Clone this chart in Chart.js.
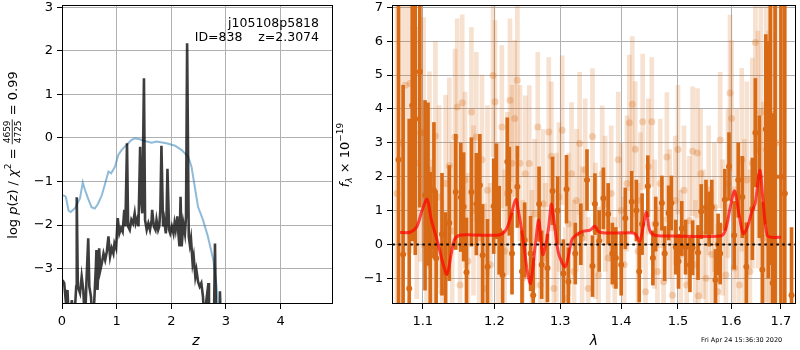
<!DOCTYPE html>
<html>
<head>
<meta charset="utf-8">
<script src="https://cdn.jsdelivr.net/npm/chart.js@4"></script>
<style>
  body { margin: 0; background: #fff; }
  #wrap { position: relative; width: 800px; height: 350px; overflow: hidden; }
  canvas { position: absolute; top: 0; }
  #pz { left: 0; }
  #spec { left: 336px; }
</style>
</head>
<body>
<div id="wrap">
  <canvas id="pz" width="336" height="350"></canvas>
  <canvas id="spec" width="464" height="350"></canvas>
</div>
<script>
// ---- left panel: log p(z) and chi2 curves ----
const zTicks = [0, 1, 2, 3, 4];
const logpTicks = [-3, -2, -1, 0, 1, 2, 3];

const chi2Z =   [0.02, 0.07, 0.12, 0.16, 0.24, 0.33, 0.38, 0.42, 0.48, 0.54, 0.60, 0.66, 0.73, 0.80, 0.85, 0.90, 0.97, 1.03, 1.09, 1.18, 1.27, 1.33, 1.42, 1.55, 1.64, 1.73, 1.91, 2.07, 2.19, 2.31, 2.37, 2.43, 2.49, 2.58, 2.67, 2.77, 2.83, 2.88];
const chi2Val = [-1.31, -1.35, -1.67, -1.70, -1.61, -1.38, -1.02, -1.19, -1.40, -1.59, -1.62, -1.51, -1.31, -1.00, -0.77, -0.81, -0.66, -0.39, -0.28, -0.16, -0.05, -0.01, -0.03, -0.08, -0.11, -0.08, -0.12, -0.18, -0.28, -0.43, -0.66, -1.12, -1.58, -1.88, -2.26, -2.80, -3.41, -4.40];

const pzZ = [0.01, 0.04, 0.07, 0.10, 0.13, 0.18, 0.22, 0.26, 0.27, 0.29, 0.33, 0.36, 0.39, 0.42, 0.45, 0.48, 0.50, 0.53, 0.56, 0.59,
  0.62, 0.63, 0.65, 0.68, 0.70, 0.73, 0.76, 0.79, 0.82, 0.85, 0.88, 0.91, 0.94, 0.96, 0.99, 1.02, 1.05, 1.08, 1.11, 1.14,
  1.16, 1.19, 1.21, 1.24, 1.27, 1.30, 1.33, 1.35, 1.38, 1.40, 1.43, 1.45, 1.47, 1.50, 1.52, 1.55, 1.58, 1.61, 1.64, 1.65,
  1.68, 1.71, 1.73, 1.76, 1.78, 1.80, 1.82, 1.85, 1.87, 1.90, 1.91, 1.93, 1.96, 1.98, 2.01, 2.04, 2.06, 2.08, 2.11, 2.13,
  2.15, 2.17, 2.19, 2.22, 2.25, 2.27, 2.29, 2.32, 2.34, 2.36, 2.39, 2.41, 2.44, 2.46, 2.49, 2.52, 2.55, 2.58, 2.61, 2.64,
  2.68, 2.69, 2.78, 2.80, 2.82, 2.88, 2.89, 2.91];
const pzVal = [-3.26, -3.33, -3.75, -3.49, -4.3, -3.72, -4.3, -3.41, -1.36, -3.41, -3.56, -3.18, -3.49, -4.3, -3.22, -2.30, -3.41, -3.64, -4.3, -3.75,
  -2.95, -2.57, -3.49, -2.53, -3.04, -2.87, -2.65, -2.80, -2.61, -2.26, -2.72, -2.53, -2.65, -2.42, -2.53, -1.84, -2.19, -2.07, -2.15, -1.65,
  -2.03, -0.12, -2.03, -2.11, -1.88, -1.96, -1.73, -1.96, -1.84, -2.03, -0.20, -1.42, -1.73, 1.37, -1.88, -2.11, -1.96, -2.11, -1.88, -1.65,
  -2.03, -2.11, -1.88, -2.11, -2.03, -1.65, -0.18, -2.03, -1.88, -2.19, -2.03, -0.71, -2.11, -2.19, -2.03, -2.19, -1.96, -2.11, -1.80, -2.19,
  -2.49, -1.35, -2.49, -1.96, -2.19, -1.80, 2.17, -2.26, -2.45, -2.30, -2.87, -2.72, -3.18, -3.03, -3.30, -3.41, -3.33, -3.64, -4.3, -3.75,
  -3.33, -4.3, -4.3, -2.42, -4.3, -4.3, -3.52, -4.3];

// ---- right panel: spectrum ----
const lamTicks = [1.1, 1.2, 1.3, 1.4, 1.5, 1.6, 1.7];
const fluxTicks = [-1, 0, 1, 2, 3, 4, 5, 6, 7];

const darkWave = [1.068, 1.074, 1.082, 1.086, 1.090, 1.096, 1.103, 1.107, 1.110, 1.115, 1.118, 1.126, 1.131, 1.136, 1.145, 1.152, 1.156, 1.160, 1.167, 1.174,
  1.179, 1.183, 1.190, 1.199, 1.203, 1.207, 1.212, 1.219, 1.222, 1.226, 1.234, 1.241, 1.245, 1.254, 1.258, 1.267, 1.271, 1.280, 1.288, 1.296,
  1.305, 1.310, 1.313, 1.324, 1.333, 1.343, 1.352, 1.356, 1.363, 1.370, 1.378, 1.385, 1.391, 1.400, 1.407, 1.418, 1.426, 1.431, 1.436, 1.446,
  1.455, 1.460, 1.471, 1.476, 1.483, 1.488, 1.496, 1.501, 1.507, 1.514, 1.522, 1.527, 1.537, 1.543, 1.552, 1.558, 1.563, 1.570, 1.575, 1.579,
  1.588, 1.596, 1.606, 1.614, 1.622, 1.630, 1.642, 1.648, 1.656, 1.662, 1.669, 1.674, 1.678, 1.683, 1.688, 1.700, 1.708, 1.722];
const darkFlux = [2.5, -0.3, -1.3, 4.1, 3.7, 5.1, 1.45, 1.78, -0.07, 1.60, -0.41, 0.3, -0.86, 0.63, 1.55, 1.39, 1.11, -0.82, 1.55, 1.19,
  1.75, -0.32, -0.66, 1.13, 1.57, 0.42, -0.9, 2.44, 1.57, -0.27, 1.7, -0.8, 0.13, -0.27, -1.5, 1.19, -0.6, -0.7, 1.58, 1.0,
  -0.86, 1.63, -1.10, -0.27, 0.3, 1.90, -0.64, 1.19, 0.1, 1.36, 0.9, -0.27, -0.4, -0.6, 0.77, 1.26, 1.0, -0.8, 0.6, 1.72,
  -0.4, 0.6, 1.22, -0.27, 0.93, 1.22, -0.08, -0.5, 0.47, -0.08, -0.6, -0.1, -0.24, 0.97, 1.1, 0.75, 1.1, -1.05, 0.0, -0.27,
  1.32, 2.3, 0.27, 1.9, 1.4, -0.66, 1.05, 3.3, 2.0, -0.75, 3.4, 2.5, 3.4, -1.14, 2.0, 2.0, 1.5, -1.5];
const darkErr = [6, 5, 5, 4, 4, 4, 2.8, 2.4, 2.2, 2.0, 2.0, 1.8, 1.8, 1.7, 1.7, 1.6, 1.6, 1.6, 1.6, 1.5,
  1.5, 1.5, 1.4, 1.4, 1.4, 1.3, 1.3, 1.3, 1.3, 1.2, 1.2, 1.2, 1.1, 1.1, 1.1, 1.1, 1.0, 1.0, 1.0, 1.0,
  1.0, 1.0, 1.0, 0.9, 0.9, 0.9, 0.9, 0.9, 0.9, 0.9, 0.9, 0.9, 0.9, 0.9, 0.9, 0.9, 0.9, 0.9, 0.9, 0.9,
  0.8, 0.8, 0.8, 0.8, 0.8, 0.8, 0.8, 0.8, 0.8, 0.8, 0.8, 0.8, 0.8, 0.8, 0.8, 0.8, 0.8, 0.9, 0.9, 0.9,
  0.9, 1.0, 1.0, 1.1, 1.2, 1.3, 1.5, 1.6, 1.8, 2.0, 2.8, 3.5, 4, 5, 6, 9, 10, 2.0];

const lightWave = [1.066, 1.071, 1.077, 1.083, 1.088, 1.092, 1.097, 1.101, 1.105, 1.109, 1.113, 1.117, 1.122, 1.126, 1.131, 1.136, 1.140, 1.144, 1.147, 1.151,
  1.154, 1.158, 1.162, 1.167, 1.170, 1.174, 1.178, 1.182, 1.186, 1.190, 1.194, 1.198, 1.201, 1.205, 1.211, 1.215, 1.219, 1.223, 1.226, 1.230,
  1.234, 1.238, 1.242, 1.246, 1.252, 1.256, 1.260, 1.265, 1.269, 1.273, 1.277, 1.282, 1.286, 1.290, 1.294, 1.298, 1.303, 1.308, 1.313, 1.318,
  1.322, 1.326, 1.331, 1.335, 1.340, 1.345, 1.352, 1.357, 1.362, 1.368, 1.373, 1.378, 1.383, 1.389, 1.395, 1.400, 1.405, 1.410, 1.414, 1.419,
  1.424, 1.429, 1.433, 1.437, 1.442, 1.447, 1.453, 1.458, 1.463, 1.468, 1.474, 1.480, 1.485, 1.490, 1.495, 1.500, 1.505, 1.511, 1.516, 1.521,
  1.527, 1.532, 1.536, 1.538, 1.542, 1.547, 1.552, 1.557, 1.563, 1.568, 1.574, 1.579, 1.584, 1.590, 1.594, 1.598, 1.601, 1.606, 1.611, 1.616,
  1.621, 1.626, 1.631, 1.637, 1.642, 1.648, 1.653, 1.659, 1.664, 1.670, 1.675, 1.680, 1.685, 1.690];
const lightFlux = [1.5, 3.0, 4.7, 4.75, 6.4, 2.4, 3.3, 3.3, 0.6, 2.2, -0.3, 3.2, 1.40, -1.4, 1.80, 2.32, 0.4, 3.17, 4.06, -1.2,
  4.18, 1.9, -0.5, 3.91, 1.0, 3.17, 0.2, 2.5, -1.3, 1.6, -0.6, 4.99, 4.21, 0.6, 3.47, -0.2, 1.5, 4.26, 2.4, 3.72,
  4.85, 2.4, -1.0, 2.09, 2.39, -0.6, 0.9, 3.47, -1.2, 1.2, -0.4, 3.32, 2.6, -1.3, 0.5, 1.4, 3.37, -1.6, 0.6, 2.09,
  -0.8, 1.3, 2.98, 0.2, 2.2, -1.3, 3.19, 0.4, -0.9, 2.09, 1.2, -0.4, 1.5, -1.2, 2.5, 1.0, -0.6, 1.8, 3.59, 4.14,
  2.81, -0.2, 1.3, 3.62, -1.4, 2.3, 3.62, 0.6, -0.8, 1.8, -1.1, 2.58, 0.9, -1.5, 1.3, 2.8, -0.3, 1.6, -1.2, 0.7,
  2.75, -0.6, 2.70, -1.52, 2.09, 0.3, -1.0, 1.6, -0.3, 1.1, -1.4, 3.08, 0.5, -0.9, 1.8, 4.47, 3.72, -0.7, 1.5, -1.2,
  2.5, 0.3, 1.9, -0.8, 2.4, 5.96, 2.8, 3.9, 0.2, 2.8, 1.3, 3.84, 2.2, 3.0];
const lightErr = [6, 6, 5, 5, 4, 4, 3.8, 3.4, 3.0, 2.9, 2.8, 2.8, 2.7, 2.7, 2.6, 2.6, 2.6, 2.6, 2.6, 2.6,
  2.6, 2.6, 2.6, 2.5, 2.5, 2.5, 2.5, 2.5, 2.5, 2.5, 2.4, 2.4, 2.4, 2.4, 2.4, 2.4, 2.4, 2.4, 2.3, 2.3,
  2.3, 2.3, 2.3, 2.3, 2.3, 2.2, 2.2, 2.2, 2.2, 2.2, 2.2, 2.2, 2.2, 2.2, 2.2, 2.2, 2.2, 2.1, 2.1, 2.1,
  2.1, 2.1, 2.1, 2.1, 2.1, 2.1, 2.0, 2.0, 2.0, 2.0, 2.0, 2.0, 2.0, 2.0, 2.0, 2.0, 2.0, 2.0, 2.0, 2.0,
  2.0, 2.0, 2.0, 2.0, 2.0, 2.0, 1.9, 1.9, 1.9, 1.9, 1.9, 1.9, 1.9, 1.9, 1.9, 1.9, 1.9, 1.9, 1.9, 1.9,
  1.9, 1.9, 1.9, 1.9, 1.9, 1.9, 1.9, 1.9, 1.9, 1.9, 2.0, 2.0, 2.0, 2.1, 2.2, 2.3, 2.3, 2.4, 2.5, 2.6,
  2.7, 2.8, 2.9, 3.0, 3.1, 3.3, 3.5, 3.8, 4, 4.5, 5, 6, 6, 7];

const modelWave = [1.070, 1.083, 1.092, 1.099, 1.1057, 1.1116, 1.1205, 1.1273, 1.1328, 1.1388, 1.1434, 1.1503, 1.169, 1.207, 1.2168, 1.2241, 1.2315, 1.2364, 1.2439, 1.2488,
  1.2539, 1.2615, 1.2666, 1.2727, 1.2778, 1.2819, 1.2861, 1.2913, 1.2975, 1.3080, 1.3185, 1.3249, 1.3372, 1.3480, 1.3562, 1.3616, 1.3727, 1.4063, 1.4233, 1.4319,
  1.4376, 1.4434, 1.4493, 1.4581, 1.4876, 1.5794, 1.5890, 1.5986, 1.6069, 1.6154, 1.6238, 1.6318, 1.6415, 1.6475, 1.6569, 1.6634, 1.6715, 1.6816, 1.700];
const modelFlux = [0.35, 0.36, 0.52, 1.00, 1.33, 0.72, 0.03, -0.56, -0.88, -0.27, 0.15, 0.27, 0.28, 0.28, 0.42, 0.81, 1.33, 0.90, -0.02, -0.76,
  -1.15, 0.03, 0.72, -0.30, 0.03, 0.52, 1.19, 0.52, -0.27, -0.66, 0.13, 0.27, 0.39, 0.42, 0.54, 0.38, 0.34, 0.34, 0.32, 0.10,
  0.50, 0.95, 0.42, 0.27, 0.25, 0.25, 0.42, 1.11, 1.58, 0.90, 0.32, 0.50, 1.00, 1.20, 2.19, 1.30, 0.27, 0.21, 0.21];

const FONT = 'DejaVu Sans';
const DARK = 'rgb(216,106,22)';
const LIGHT_BAR = 'rgba(216,106,22,0.2)';
const LIGHT_DOT = 'rgba(216,106,22,0.28)';

const mathMinus = v => (v < 0 ? '\u2212' + Math.abs(v) : String(v));
const pts = (xs, ys) => xs.map((x, i) => ({ x, y: ys[i] }));
const bars = (xs, ys, es) => xs.map((x, i) => ({ x, y: [ys[i] - es[i], ys[i] + es[i]] }));

function axis(extra) {
  return Object.assign({
    ticks: { color: '#000', font: { family: FONT, size: 13 }, padding: 5, maxRotation: 0, autoSkip: false },
    grid: { color: '#b0b0b0', lineWidth: 1, tickColor: '#000', tickLength: 5 },
    border: { display: false }
  }, extra);
}

// draw a run of text pieces (mixed fonts, sub/superscripts, fraction) centred on cx,cy
function drawPieces(ctx, pieces, cx, cy, rotate) {
  ctx.save();
  ctx.translate(cx, cy);
  if (rotate) ctx.rotate(-Math.PI / 2);
  ctx.fillStyle = '#000';
  ctx.textBaseline = 'alphabetic';
  ctx.textAlign = 'left';
  let total = 0;
  pieces.forEach(p => {
    ctx.font = p.font;
    p.w = p.frac
      ? Math.max(ctx.measureText(p.frac[0]).width, ctx.measureText(p.frac[1]).width) + 2
      : ctx.measureText(p.t).width;
    total += p.w;
  });
  let x = -total / 2;
  pieces.forEach(p => {
    ctx.font = p.font;
    if (p.frac) {
      ctx.textAlign = 'center';
      ctx.fillText(p.frac[0], x + p.w / 2, -1.8);
      ctx.fillText(p.frac[1], x + p.w / 2, 8.6);
      ctx.fillRect(x, -0.2, p.w, 0.8);
      ctx.textAlign = 'left';
    } else {
      ctx.fillText(p.t, x, 4.5 + (p.dy || 0));
    }
    x += p.w;
  });
  ctx.restore();
}

function frame(ctx, a) {
  ctx.save();
  ctx.strokeStyle = '#000';
  ctx.lineWidth = 1;
  ctx.strokeRect(Math.floor(a.left) + 0.5, Math.floor(a.top) + 0.5,
    Math.round(a.right - a.left) - 1, Math.round(a.bottom - a.top) - 1);
  ctx.restore();
}

const N = '13px ' + FONT, I = 'italic 13px ' + FONT, S = '9px ' + FONT, SI = 'italic 9px ' + FONT;

const pzDecor = {
  id: 'pzDecor',
  afterDraw(chart) {
    const ctx = chart.ctx;
    frame(ctx, chart.chartArea);
    ctx.save();
    ctx.fillStyle = '#000';
    ctx.font = '12.5px ' + FONT;
    ctx.textAlign = 'right';
    ctx.fillText('j105108p5818', 319, 26.5);
    ctx.fillText('ID=838    z=2.3074', 319, 41);
    ctx.font = 'italic 14px ' + FONT;
    ctx.textAlign = 'center';
    ctx.fillText('z', 196, 345);
    ctx.restore();
    drawPieces(ctx, [
      { t: 'log ', font: N }, { t: 'p', font: I }, { t: '(', font: N }, { t: 'z', font: I },
      { t: ') / ', font: N }, { t: '\u03c7', font: I }, { t: '2', font: S, dy: -6 },
      { t: ' = ', font: N }, { frac: ['4659', '4725'], font: S }, { t: ' = 0.99', font: N }
    ], 12, 155, true);
  }
};

const specDecor = {
  id: 'specDecor',
  afterDraw(chart) {
    const ctx = chart.ctx;
    frame(ctx, chart.chartArea);
    ctx.save();
    ctx.fillStyle = '#000';
    ctx.font = 'italic 14px ' + FONT;
    ctx.textAlign = 'center';
    ctx.fillText('\u03bb', 258, 345);
    ctx.font = '6.5px ' + FONT;
    ctx.textAlign = 'left';
    ctx.fillText('Fri Apr 24 15:36:30 2020', 365, 342);
    ctx.restore();
    drawPieces(ctx, [
      { t: 'f', font: I }, { t: '\u03bb', font: SI, dy: 3 }, { t: ' \u00d7 10', font: N }, { t: '\u221219', font: S, dy: -6 }
    ], 8, 155, true);
  }
};

new Chart(document.getElementById('pz'), {
  type: 'scatter',
  data: {
    datasets: [
      { data: pts(pzZ, pzVal), showLine: true, borderColor: 'rgba(0,0,0,0.76)', borderWidth: 2.6, pointRadius: 0, tension: 0, clip: 0, order: 1 },
      { data: pts(chi2Z, chi2Val), showLine: true, borderColor: 'rgba(31,119,180,0.5)', borderWidth: 2, pointRadius: 0, tension: 0, clip: 0, order: 2 }
    ]
  },
  options: {
    responsive: false, animation: false, devicePixelRatio: 1,
    layout: { padding: { top: 5, right: 3, left: 0, bottom: 0 } },
    plugins: { legend: { display: false }, tooltip: { enabled: false } },
    scales: {
      x: axis({
        type: 'linear', min: 0, max: 4.96,
        afterBuildTicks: s => { s.ticks = zTicks.map(v => ({ value: v })); },
        afterFit: s => { s.height = 46; s.paddingLeft = 0; s.paddingRight = 0; },
        ticks: Object.assign(axis().ticks, { callback: v => mathMinus(v) })
      }),
      y: axis({
        type: 'linear', min: -3.81, max: 3.05,
        afterBuildTicks: s => { s.ticks = logpTicks.map(v => ({ value: v })); },
        afterFit: s => { s.width = 62; s.paddingTop = 0; s.paddingBottom = 0; },
        ticks: Object.assign(axis().ticks, { padding: 4, callback: v => mathMinus(v) })
      })
    }
  },
  plugins: [pzDecor]
});

new Chart(document.getElementById('spec'), {
  type: 'scatter',
  data: {
    datasets: [
      { data: [{ x: 1.0, y: 0 }, { x: 1.8, y: 0 }], showLine: true, borderColor: '#000', borderWidth: 2, borderDash: [2.5, 3.5], pointRadius: 0, clip: 0, order: 0 },
      { data: pts(modelWave, modelFlux), showLine: true, borderColor: 'rgba(255,0,0,0.7)', borderWidth: 3, pointRadius: 0, tension: 0.3, clip: 0, order: 1 },
      { data: pts(darkWave, darkFlux), pointRadius: 3, pointBackgroundColor: DARK, pointBorderWidth: 0, clip: 0, order: 2 },
      { type: 'bar', data: bars(darkWave, darkFlux, darkErr), backgroundColor: DARK, barThickness: 3, grouped: false, borderWidth: 0, clip: 0, order: 3 },
      { data: pts(lightWave, lightFlux), pointRadius: 3.5, pointBackgroundColor: LIGHT_DOT, pointBorderWidth: 0, clip: 0, order: 4 },
      { type: 'bar', data: bars(lightWave, lightFlux, lightErr), backgroundColor: LIGHT_BAR, barThickness: 4, grouped: false, borderWidth: 0, clip: 0, order: 5 }
    ]
  },
  options: {
    responsive: false, animation: false, devicePixelRatio: 1,
    layout: { padding: { top: 5, right: 1, left: 0, bottom: 0 } },
    plugins: { legend: { display: false }, tooltip: { enabled: false } },
    scales: {
      x: axis({
        type: 'logarithmic', min: 1.0596, max: 1.7314, offset: false,
        afterBuildTicks: s => { s.ticks = lamTicks.map(v => ({ value: v })); },
        afterFit: s => { s.height = 46; s.paddingLeft = 0; s.paddingRight = 0; },
        ticks: Object.assign(axis().ticks, { callback: v => Number(v).toFixed(1) }),
        grid: Object.assign(axis().grid, { offset: false })
      }),
      y: axis({
        type: 'linear', min: -1.76, max: 7.07,
        afterBuildTicks: s => { s.ticks = fluxTicks.map(v => ({ value: v })); },
        afterFit: s => { s.width = 56; s.paddingTop = 0; s.paddingBottom = 0; },
        ticks: Object.assign(axis().ticks, { padding: 4, callback: v => mathMinus(v) })
      })
    }
  },
  plugins: [specDecor]
});
</script>
</body>
</html>
